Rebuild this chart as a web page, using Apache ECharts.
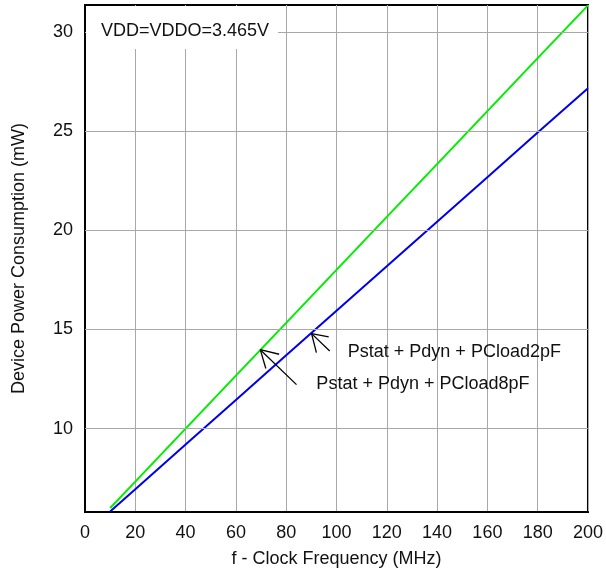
<!DOCTYPE html>
<html><head><meta charset="utf-8">
<script src="https://cdn.jsdelivr.net/npm/echarts@6/dist/echarts.min.js"></script>
<style>html,body{margin:0;padding:0;background:#fff}#c{width:606px;height:573px}</style>
</head><body><div id="c"></div>
<script>
// Data
const freq = [10, 20, 40, 60, 80, 100, 120, 140, 160, 180, 200];
const p8pF = [6.0, 7.33, 10.0, 12.67, 15.33, 18.0, 20.67, 23.33, 26.0, 28.67, 31.33];
const p2pF = [5.83, 6.95, 9.2, 11.45, 13.7, 15.94, 18.18, 20.43, 22.67, 24.92, 27.15];
const yTicks = [10, 15, 20, 25, 30];
const seriesNames = ['Pstat + Pdyn + PCload8pF', 'Pstat + Pdyn + PCload2pF'];
const titleText = 'VDD=VDDO=3.465V';
const xName = 'f - Clock Frequency (MHz)';
const yName = 'Device Power Consumption (mW)';
// annotation arrows (data coords): tip, shaft end, barb1, barb2
const arrow8 = [[69.7, 13.98], [84.1, 12.22], [71.9, 13.03], [77.2, 13.75]];
const arrow2 = [[90.1, 14.79], [97.3, 13.91], [92.0, 13.83], [96.9, 14.62]];
const label8Pos = [92.0, 12.27];
const label2Pos = [104.5, 13.84];

const FONT = '"Liberation Sans", Arial, sans-serif';
const chart = echarts.init(document.getElementById('c'));
const pairs = (ys) => freq.map((f, i) => [f, ys[i]]);

chart.setOption({
  animation: false,
  backgroundColor: '#fff',
  textStyle: { fontFamily: FONT },
  grid: { left: 85, right: 14, top: 5, bottom: 61, show: true, borderColor: '#000', borderWidth: 2, containLabel: false },
  xAxis: {
    type: 'value', min: 0, max: 200, interval: 20,
    name: xName, nameLocation: 'middle', nameGap: 38,
    nameTextStyle: { fontSize: 18, color: '#111', fontFamily: FONT },
    axisLine: { show: true, lineStyle: { color: '#000', width: 2 } },
    axisTick: { show: false },
    axisLabel: { fontSize: 18, color: '#111', margin: 12, fontFamily: FONT },
    splitLine: { show: true, lineStyle: { color: '#a8a8a8', width: 1 } }
  },
  yAxis: {
    type: 'value', min: 5.8, max: 31.35,
    name: yName, nameLocation: 'middle', nameGap: 57, nameRotate: 90,
    nameTextStyle: { fontSize: 18, color: '#111', fontFamily: FONT },
    axisLine: { show: true, lineStyle: { color: '#000', width: 2 } },
    axisTick: { show: false, customValues: yTicks },
    axisLabel: { fontSize: 18, color: '#111', margin: 12, fontFamily: FONT, customValues: yTicks },
    splitLine: { show: false }
  },
  series: [
    {
      type: 'line', name: 'grid', data: [], silent: true,
      markLine: {
        silent: true, symbol: 'none', label: { show: false },
        lineStyle: { color: '#a8a8a8', width: 1, type: 'solid' },
        data: yTicks.map(v => ({ yAxis: v }))
      }
    },
    { type: 'line', name: seriesNames[0], data: pairs(p8pF), showSymbol: false, lineStyle: { color: '#00ee00', width: 2 }, z: 3 },
    { type: 'line', name: seriesNames[1], data: pairs(p2pF), showSymbol: false, lineStyle: { color: '#0000ee', width: 2 }, z: 3 }
  ]
});

const px = (p) => chart.convertToPixel({ gridIndex: 0 }, p);
function arrowEls(a) {
  const tip = px(a[0]);
  return a.slice(1).map(p => {
    const q = px(p);
    return { type: 'line', z: 50, shape: { x1: tip[0], y1: tip[1], x2: q[0], y2: q[1] }, style: { stroke: '#000', lineWidth: 1.3 } };
  });
}
const l8 = px(label8Pos), l2 = px(label2Pos);
chart.setOption({
  graphic: [
    { type: 'rect', z: 40, shape: { x: 86, y: 6, width: 192, height: 43 }, style: { fill: '#fff' } },
    { type: 'text', z: 41, x: 101, y: 31, style: { text: titleText, font: '18px ' + FONT, fill: '#111', textVerticalAlign: 'middle', verticalAlign: 'middle' } },
    ...arrowEls(arrow8), ...arrowEls(arrow2),
    { type: 'text', z: 51, x: l8[0], y: l8[1], style: { text: seriesNames[0], font: '18px ' + FONT, fill: '#111', verticalAlign: 'middle', textVerticalAlign: 'middle' } },
    { type: 'text', z: 51, x: l2[0], y: l2[1], style: { text: seriesNames[1], font: '18px ' + FONT, fill: '#111', verticalAlign: 'middle', textVerticalAlign: 'middle' } }
  ]
});
</script></body></html>
